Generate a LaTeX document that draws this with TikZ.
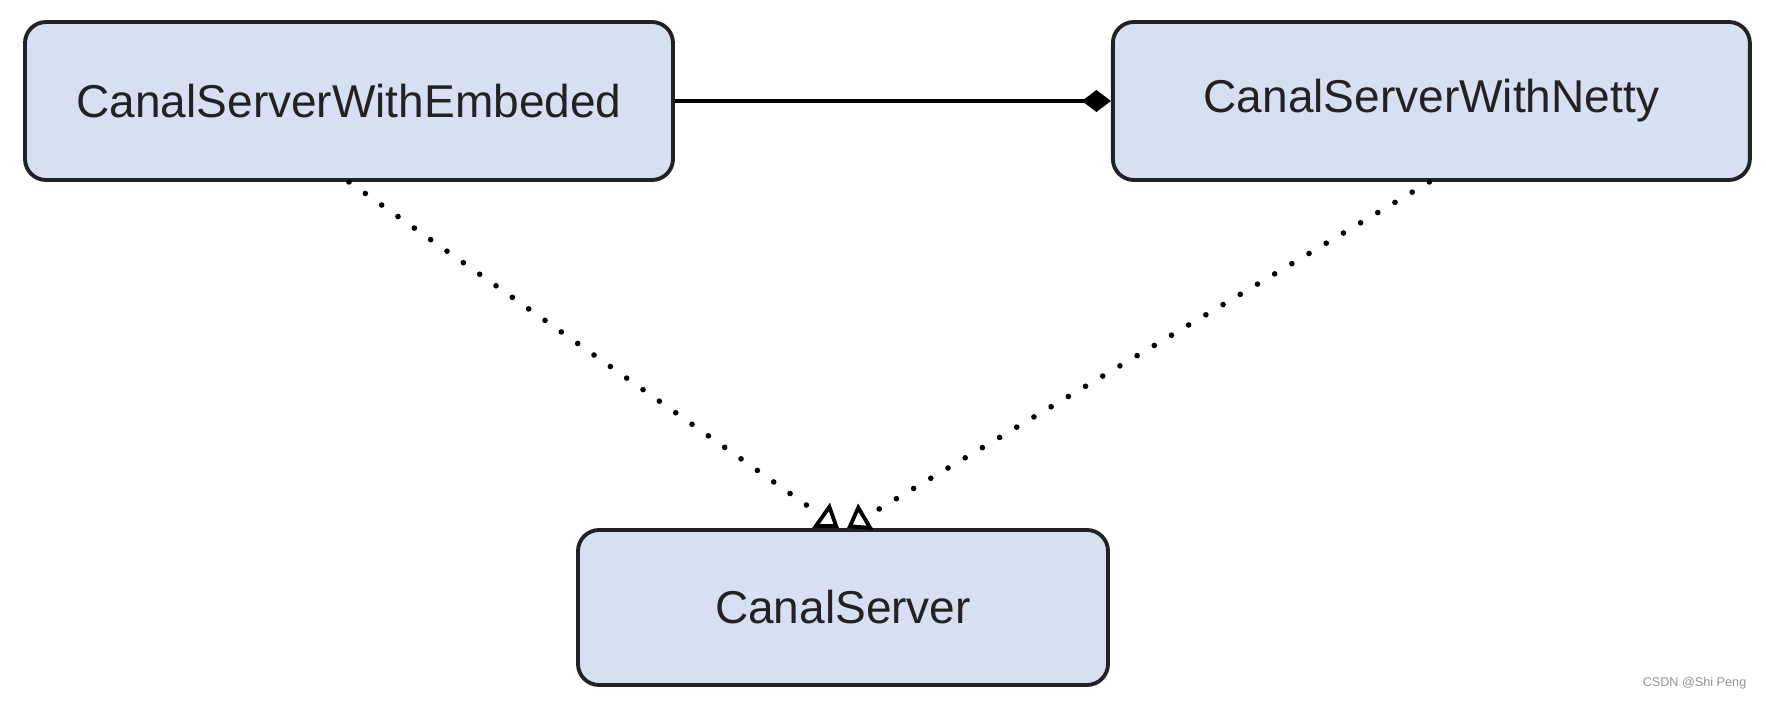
\documentclass[tikz,border=0pt]{standalone}
\usepackage{fontspec}
\setsansfont{Liberation Sans}
\usepackage{xcolor}
\usetikzlibrary{arrows.meta,calc,positioning}
\definecolor{boxfill}{RGB}{214,224,240}
\definecolor{boxline}{RGB}{34,34,38}

\begin{document}
\begin{tikzpicture}[font=\sffamily,cls/.style={rounded corners=0.21cm,draw=boxline,line width=1.1pt,fill=boxfill,minimum height=1.58cm,text=boxline,font=\sffamily\fontsize{13.1}{16}\selectfont},realize/.style={-{Triangle[open,length=0.22cm,width=0.3cm,line width=1.1pt]},line width=1.6pt,line cap=round,dash pattern=on 0pt off 0.2cm},compose/.style={-{Diamond[length=0.29cm,width=0.22cm]},line width=1.1pt}]
\useasboundingbox (0,0) rectangle (17.66,-7.02);
\node[cls,minimum width=6.48cm] (embed) at (3.49,-1.01) {CanalServerWithEmbeded};
\node[cls,minimum width=6.37cm,right=4.36cm of embed] (netty) {CanalServerWithNetty};
\node[cls,minimum width=5.30cm,minimum height=1.55cm] (server) at (8.43,-6.075) {CanalServer};
\draw[compose] (embed.east) -- (netty.west);
\draw[realize] (embed.south) -- ([xshift=-0.04cm]server.north);
\draw[realize] ([xshift=-0.02cm]netty.south) -- ([xshift=0.04cm]server.north);
\node[anchor=east,inner sep=0pt,text=gray!85,font=\sffamily\fontsize{3.6}{4}\selectfont] (mark) at (17.47,-6.83) {CSDN @Shi Peng};
\end{tikzpicture}
\end{document}
